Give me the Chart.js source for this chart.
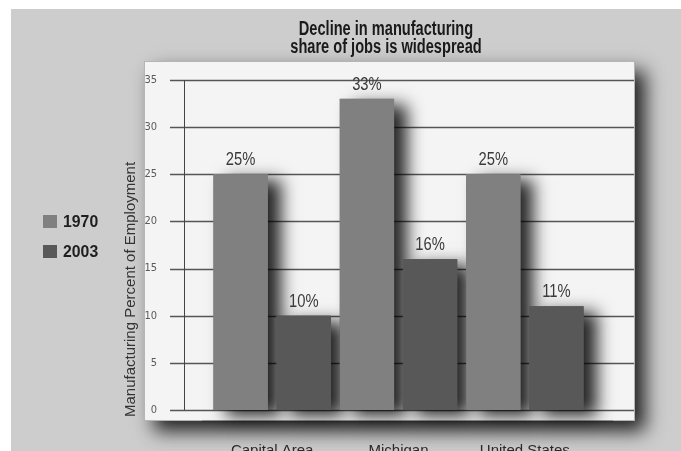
<!DOCTYPE html>
<html>
<head>
<meta charset="utf-8">
<script src="https://cdn.jsdelivr.net/npm/chart.js@4.4.1/dist/chart.umd.min.js"></script>
<style>
  html, body { margin: 0; padding: 0; background: #ffffff; overflow: hidden; }
  #grafico { display: block; }
</style>
</head>
<body>
<canvas id="grafico" width="681" height="451"></canvas>
<script>
// Datos del grafico
const regiones = ["Capital Area", "Michigan", "United States"];
const anios = ["1970", "2003"];
const valores1970 = [25, 33, 25];
const valores2003 = [10, 16, 11];
const marcasY = [0, 5, 10, 15, 20, 25, 30, 35];
const tituloLineas = ["Decline in manufacturing", "share of jobs is widespread"];
const tituloEje = "Manufacturing Percent of Employment";

const SANS = "'Liberation Sans', Arial, sans-serif";
const COND = "'DejaVu Sans Condensed', 'Liberation Sans', sans-serif";

// texto estrechado en horizontal (la fuente original es condensada)
function textoEstrecho(ctx, txt, x, y, escala) {
  ctx.save();
  ctx.translate(x, y);
  ctx.scale(escala, 1);
  ctx.fillText(txt, 0, 0);
  ctx.restore();
}

// Fondo, panel, rejilla, sombras, etiquetas, leyenda y titulo
const decorado = {
  id: "decorado",
  beforeDraw(chart) {
    const ctx = chart.ctx;
    ctx.save();
    ctx.fillStyle = "#ffffff";
    ctx.fillRect(0, 0, chart.width, chart.height);
    ctx.fillStyle = "#cdcdcd";
    ctx.fillRect(11, 9, chart.width - 11, chart.height - 9);
    // panel con sombra
    ctx.shadowColor = "rgba(0,0,0,0.85)";
    ctx.shadowBlur = 18;
    ctx.shadowOffsetX = 10;
    ctx.shadowOffsetY = 10;
    ctx.fillStyle = "#f4f4f4";
    ctx.fillRect(144, 61, 491, 360);
    ctx.restore();
    ctx.save();
    ctx.strokeStyle = "#b5b5b5";
    ctx.lineWidth = 1;
    ctx.strokeRect(144.5, 61.5, 490, 359);
    ctx.restore();
  },
  beforeDatasetsDraw(chart) {
    const ctx = chart.ctx;
    const y = chart.scales.y;
    const area = chart.chartArea;
    ctx.save();
    ctx.strokeStyle = "#555555";
    ctx.lineWidth = 1.3;
    marcasY.forEach(v => {
      const py = Math.round(y.getPixelForValue(v)) + 0.5;
      ctx.beginPath();
      ctx.moveTo(170, py);
      ctx.lineTo(634, py);
      ctx.stroke();
    });
    // eje vertical
    ctx.strokeStyle = "#444444";
    ctx.lineWidth = 1;
    ctx.beginPath();
    ctx.moveTo(184.5, y.getPixelForValue(35));
    ctx.lineTo(184.5, y.getPixelForValue(0));
    ctx.stroke();
    // linea inferior
    ctx.strokeStyle = "#333333";
    ctx.lineWidth = 1.5;
    ctx.beginPath();
    ctx.moveTo(202, area.bottom + 11.5);
    ctx.lineTo(613, area.bottom + 11.5);
    ctx.stroke();
    // sombras de las barras (debajo de todas)
    ctx.shadowColor = "rgba(0,0,0,0.85)";
    ctx.shadowBlur = 16;
    ctx.shadowOffsetX = 13;
    ctx.shadowOffsetY = 6;
    chart.data.datasets.forEach((ds, i) => {
      chart.getDatasetMeta(i).data.forEach(bar => {
        const p = bar.getProps(["x", "y", "base", "width"], true);
        ctx.fillStyle = ds.backgroundColor;
        ctx.fillRect(p.x - p.width / 2, p.y, p.width, p.base - p.y);
      });
    });
    ctx.restore();
  },
  afterDatasetsDraw(chart) {
    const ctx = chart.ctx;
    ctx.save();
    ctx.textAlign = "center";
    ctx.textBaseline = "middle";
    // valores encima de las barras
    ctx.fillStyle = "#3a3a3a";
    ctx.font = "18px " + SANS;
    chart.data.datasets.forEach((ds, i) => {
      chart.getDatasetMeta(i).data.forEach((bar, j) => {
        const p = bar.getProps(["x", "y"], true);
        textoEstrecho(ctx, ds.data[j] + "%", p.x, p.y - 14, 0.82);
      });
    });
    // titulo
    ctx.fillStyle = "#1a1a1a";
    ctx.font = "bold 20px " + SANS;
    tituloLineas.forEach((t, i) => textoEstrecho(ctx, t, 386, 29 + i * 18, 0.73));
    // titulo del eje Y
    ctx.save();
    ctx.fillStyle = "#333333";
    ctx.font = "15px " + SANS;
    ctx.translate(131, 417);
    ctx.rotate(-Math.PI / 2);
    ctx.textAlign = "left";
    ctx.fillText(tituloEje, 0, 0);
    ctx.restore();
    // leyenda a la izquierda
    ctx.textAlign = "left";
    ctx.font = "bold 17px " + SANS;
    chart.data.datasets.forEach((ds, i) => {
      const cy = 221 + i * 30;
      ctx.fillStyle = ds.backgroundColor;
      ctx.fillRect(43, cy - 6, 14, 13);
      ctx.fillStyle = "#1e1e1e";
      textoEstrecho(ctx, ds.label, 63, cy + 1, 0.93);
    });
    ctx.restore();
  }
};

new Chart(document.getElementById("grafico"), {
  type: "bar",
  data: {
    labels: regiones,
    datasets: [
      { label: anios[0], data: valores1970, backgroundColor: "#808080", clip: false },
      { label: anios[1], data: valores2003, backgroundColor: "#585858", clip: false }
    ]
  },
  options: {
    responsive: false,
    animation: false,
    devicePixelRatio: 1,
    layout: { padding: { left: 121, right: 93, top: 80, bottom: 0 } },
    datasets: {
      bar: { categoryPercentage: 1.0, barPercentage: 0.86 }
    },
    plugins: {
      legend: { display: false },
      tooltip: { enabled: false },
      title: { display: false }
    },
    scales: {
      x: {
        grid: { display: false },
        border: { display: false },
        ticks: {
          color: "#2a2a2a",
          font: { family: SANS, size: 15 },
          padding: 24
        },
        afterFit(scale) { scale.height = 41; }
      },
      y: {
        min: 0,
        max: 35,
        grid: { display: false },
        border: { display: false },
        afterBuildTicks(scale) { scale.ticks = marcasY.map(v => ({ value: v })); },
        ticks: {
          color: "#5a5a5a",
          font: { family: COND, size: 11 },
          padding: 44
        },
        // el padding de las etiquetas no debe empujar el area hacia arriba
        afterFit(scale) {
          scale.width = 88;
          scale.paddingTop = 7;
          scale.paddingBottom = 7;
        }
      }
    }
  },
  plugins: [decorado]
});
</script>
</body>
</html>
